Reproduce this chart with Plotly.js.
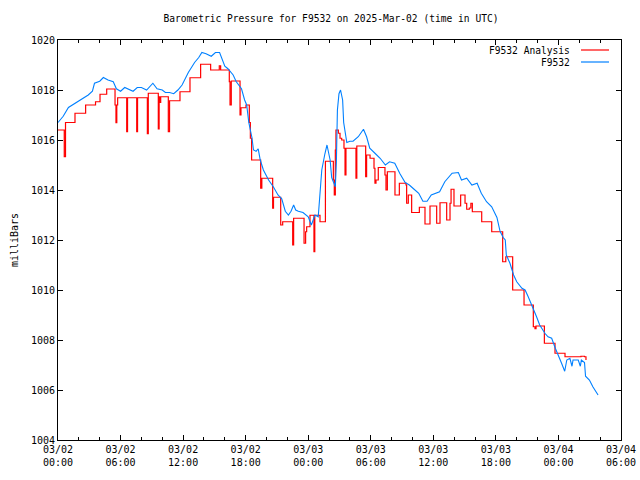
<!DOCTYPE html>
<html>
<head>
<meta charset="utf-8">
<script src="https://cdn.plot.ly/plotly-3.0.1.min.js"></script>
<style>html,body{margin:0;padding:0;background:#fff;}#chart{width:640px;height:480px;}</style>
</head>
<body>
<div id="chart"></div>
<script>
// Hours after 2025-03-02 00:00 UTC, and pressure in millibars
const obsHours = [0,0.5,1.0,1.6,2.2,2.9,3.3,3.5,4.0,4.35,4.8,5.3,5.6,6.0,6.4,6.7,7.2,7.6,8.0,8.5,9.1,9.5,10.0,10.3,10.7,11.1,11.5,11.9,12.5,13.1,13.5,13.8,14.2,14.7,15.1,15.5,15.8,16.0,16.3,16.6,16.8,17.1,17.3,17.6,17.9,18.1,18.3,18.6,18.75,19.0,19.2,19.4,19.7,20.2,20.65,21.1,21.46,21.8,22.1,22.35,22.6,22.8,23.05,23.5,24.0,24.3,24.65,24.96,25.1,25.3,25.6,25.8,26.1,26.25,26.6,26.7,26.8,26.95,27.1,27.3,27.4,27.7,28.0,28.3,28.8,29.0,29.3,29.6,29.9,30.4,30.9,31.4,31.8,32.3,32.8,33.3,33.7,34.1,34.6,35.0,35.4,35.8,36.2,36.6,37.1,37.5,37.8,38.4,38.7,39.2,39.7,40.2,40.6,41.1,41.6,42.1,42.4,42.7,42.9,43.0,43.35,43.7,44.0,44.5,44.8,45.1,45.6,45.9,46.2,46.7,47.0,47.35,47.7,48.0,48.3,48.6,48.8,49.1,49.3,49.4,49.9,50.1,50.2,50.5,50.6,50.97,51.3,51.8];
const obsPressure = [1016.7,1016.95,1017.3,1017.45,1017.6,1017.8,1017.95,1018.27,1018.35,1018.5,1018.4,1018.33,1018.05,1017.95,1018.1,1018.05,1017.95,1018.1,1018.1,1018.0,1018.27,1018.05,1018.0,1017.9,1017.9,1017.85,1018.0,1018.2,1018.7,1019.1,1019.3,1019.5,1019.45,1019.35,1019.5,1019.5,1019.2,1018.95,1018.85,1018.7,1018.6,1018.33,1018.2,1018.05,1017.6,1017.4,1016.7,1016.1,1015.6,1015.55,1015.65,1015.2,1014.8,1014.4,1014.13,1013.8,1013.65,1013.15,1013.0,1013.15,1013.4,1013.2,1013.15,1013.1,1012.93,1012.6,1013.0,1012.93,1013.7,1014.8,1015.45,1015.8,1015.2,1014.5,1014.13,1015.1,1017.2,1017.85,1018.0,1017.6,1016.7,1015.9,1015.95,1015.95,1016.13,1016.27,1016.43,1016.13,1015.67,1015.47,1015.27,1015.0,1015.13,1015.07,1014.65,1014.3,1014.2,1014.05,1013.87,1013.55,1013.55,1013.8,1013.85,1013.93,1014.33,1014.5,1014.67,1014.7,1014.4,1014.47,1014.2,1014.27,1013.87,1013.53,1013.33,1012.9,1012.35,1012.1,1012.0,1011.4,1011.07,1010.6,1010.33,1010.07,1010.0,1009.73,1009.27,1008.93,1008.6,1008.27,1008.13,1008.07,1007.67,1007.4,1007.07,1006.75,1007.2,1007.27,1006.95,1007.2,1007.2,1006.95,1007.2,1007.1,1006.55,1006.4,1006.13,1005.8];

const anaHours = [0,0.6,0.72,1.63,2.65,3.6,4.03,4.67,5.47,5.56,5.64,5.72,6.59,6.67,7.55,7.63,8.57,8.66,9.62,9.7,9.75,9.85,10.58,10.7,11.7,12.66,13.68,14.64,15.47,15.6,16.43,16.5,16.62,17.46,17.55,18.03,18.35,18.45,18.57,19.44,19.55,20.59,20.67,21.36,21.55,22.51,22.6,23.6,23.75,23.85,24.17,24.55,24.63,25.13,25.65,26.41,26.5,26.6,26.66,26.89,27.05,27.21,27.43,27.53,27.62,28.58,28.66,29.51,29.6,29.93,30.31,30.4,30.5,30.72,31.36,31.46,31.59,32.32,32.74,33.38,33.44,33.6,33.92,34.66,35.2,35.68,36.32,36.64,37.28,37.6,37.7,37.98,38.62,39.04,39.2,39.45,39.6,39.74,40.64,41.6,42.65,42.95,43.61,44.7,45.59,45.75,45.85,46.65,47.67,48.63,50.16,50.5,50.64];
const anaPressure = [1016.4,1015.33,1016.7,1017.07,1017.4,1017.53,1017.83,1018.04,1017.4,1016.69,1017.4,1017.69,1016.33,1017.69,1016.33,1017.69,1016.25,1017.87,1016.44,1017.73,1017.5,1017.73,1016.33,1017.57,1017.93,1018.49,1019.03,1018.8,1018.97,1018.8,1018.33,1017.4,1018.36,1017.0,1017.29,1017.4,1016.7,1016.07,1015.2,1014.07,1014.47,1013.27,1013.71,1012.6,1012.73,1011.8,1012.87,1011.87,1012.33,1012.53,1012.99,1011.53,1012.99,1012.73,1015.15,1014.4,1013.8,1015.6,1016.4,1016.27,1016.07,1016.0,1015.67,1014.6,1015.67,1014.47,1015.76,1014.53,1015.4,1015.27,1014.87,1014.27,1014.4,1014.9,1014.6,1014.0,1014.73,1013.8,1014.27,1014.2,1013.47,1013.8,1013.1,1013.31,1012.64,1013.36,1012.67,1013.49,1012.8,1013.47,1014.03,1013.36,1013.8,1013.47,1013.23,1013.28,1013.47,1013.13,1012.73,1012.33,1011.13,1011.33,1010.0,1009.4,1008.53,1008.45,1008.56,1007.87,1007.47,1007.33,1007.35,1007.33,1007.2];

const seriesNames = ['F9532 Analysis', 'F9532'];
const seriesColors = ['#ff0000', '#0080ff'];

function toDate(h) {
  const d = new Date(Date.UTC(2025, 2, 2) + Math.round(h * 3600000));
  const p = n => String(n).padStart(2, '0');
  return d.getUTCFullYear() + '-' + p(d.getUTCMonth() + 1) + '-' + p(d.getUTCDate()) + ' ' +
         p(d.getUTCHours()) + ':' + p(d.getUTCMinutes()) + ':' + p(d.getUTCSeconds());
}

const mono = 'DejaVu Sans Mono, monospace';

const traces = [
  {x: anaHours.map(toDate), y: anaPressure, type: 'scatter', mode: 'lines', name: seriesNames[0],
   line: {color: seriesColors[0], width: 1.2, shape: 'hv'}},
  {x: obsHours.map(toDate), y: obsPressure, type: 'scatter', mode: 'lines', name: seriesNames[1],
   line: {color: seriesColors[1], width: 1.1}}
];

const px2x = p => (p - 58) / 563;
const py2y = p => (440 - p) / 400;

const layout = {
  width: 640, height: 480,
  margin: {l: 58, r: 19, t: 40, b: 40},
  paper_bgcolor: '#fff', plot_bgcolor: '#fff',
  showlegend: false,
  font: {family: mono, size: 10, color: '#000'},
  title: {text: 'Barometric Pressure for F9532 on 2025-Mar-02 (time in UTC)',
          font: {family: mono, size: 9.6, color: '#000'},
          x: 331 / 640, xanchor: 'center', xref: 'container',
          y: 1 - 19 / 480, yanchor: 'middle', yref: 'container'},
  xaxis: {
    type: 'date',
    range: [toDate(0), toDate(54)],
    tick0: toDate(0), dtick: 6 * 3600000,
    tickformat: '%m/%d<br>%H:%M',
    ticks: 'inside', ticklen: 5, tickcolor: '#000', tickwidth: 1,
    minor: {dtick: 2 * 3600000, ticks: 'inside', ticklen: 3, tickcolor: '#000', showgrid: false},
    showline: true, linecolor: '#000', linewidth: 1, mirror: 'allticks',
    showgrid: false, zeroline: false,
    tickfont: {family: mono, size: 10, color: '#000'}
  },
  yaxis: {
    range: [1004, 1020], dtick: 2, tick0: 1004,
    ticks: 'inside', ticklen: 5, tickcolor: '#000', tickwidth: 1,
    showline: true, linecolor: '#000', linewidth: 1, mirror: 'allticks',
    showgrid: false, zeroline: false,
    tickfont: {family: mono, size: 10, color: '#000'},
    title: {text: 'milliBars', font: {family: mono, size: 10, color: '#000'}, standoff: 10}
  },
  annotations: [
    {text: seriesNames[0], xref: 'paper', yref: 'paper', x: px2x(572), y: py2y(50),
     xanchor: 'right', yanchor: 'middle', showarrow: false, font: {family: mono, size: 9.6, color: '#000'}},
    {text: seriesNames[1], xref: 'paper', yref: 'paper', x: px2x(572), y: py2y(62),
     xanchor: 'right', yanchor: 'middle', showarrow: false, font: {family: mono, size: 9.6, color: '#000'}}
  ],
  shapes: [
    {type: 'line', xref: 'paper', yref: 'paper', x0: px2x(581), x1: px2x(609), y0: py2y(50), y1: py2y(50),
     line: {color: seriesColors[0], width: 1.2}},
    {type: 'line', xref: 'paper', yref: 'paper', x0: px2x(581), x1: px2x(609), y0: py2y(62), y1: py2y(62),
     line: {color: seriesColors[1], width: 1.2}}
  ]
};

Plotly.newPlot('chart', traces, layout, {displayModeBar: false, staticPlot: true});
</script>
</body>
</html>
